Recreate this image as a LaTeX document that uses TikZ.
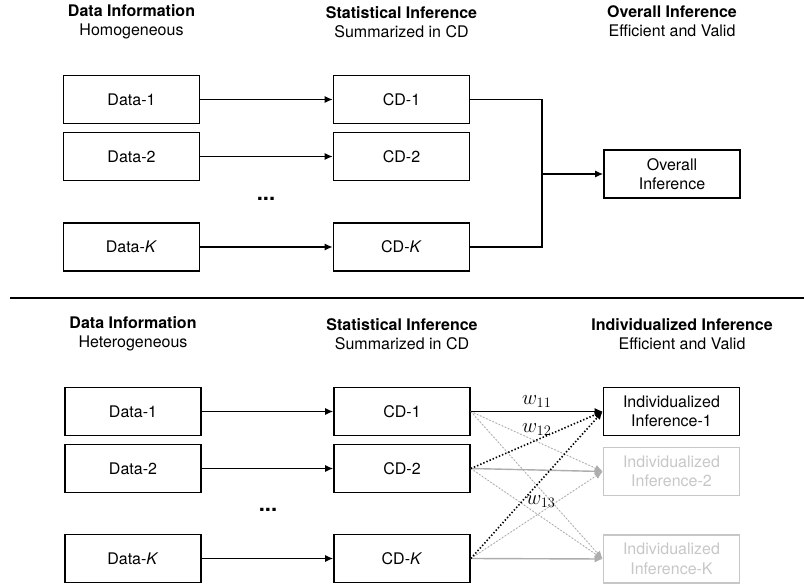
\documentclass[tikz,border=0pt]{standalone}
\usepackage{fontspec}
\setmainfont{TeX Gyre Heros}
\usepackage{tikz}
\usetikzlibrary{arrows.meta}
\definecolor{boxgray}{gray}{0.78}
\definecolor{linegray}{gray}{0.68}

\begin{document}
\begin{tikzpicture}[x=1pt,y=-1pt,
    font=\fontsize{16}{19.5}\selectfont,
    box/.style={draw, line width=1.6pt, minimum width=136pt, minimum height=48pt, inner sep=0pt, align=center},
    fadedbox/.style={box, draw=boxgray, text=boxgray},
    head/.style={align=center},
    link/.style={line width=1.4pt, -{Latex[length=8pt,width=7pt]}},
    fadedlink/.style={link, draw=linegray, fill=linegray},
    wlabel/.style={font=\fontsize{20}{22}\selectfont, inner sep=1pt},
    ellip/.style={font=\fontsize{22}{22}\selectfont\bfseries}]
    \useasboundingbox (0,0) rectangle (804,588);

    % Homogeneous data: combine all CDs
    \node[head] (hd1) at (131.5,22) {\textbf{Data Information}\\Homogeneous};
    \node[head] (hs1) at (401.5,22) {\textbf{Statistical Inference}\\Summarized in CD};
    \node[head] (ho1) at (672,21) {\textbf{Overall Inference}\\Efficient and Valid};

    \node[box] (d1) at (131.5,99.5) {Data-1};
    \node[box] (d2) at (131.5,156.5) {Data-2};
    \node[box] (dK) at (131.5,247) {Data-\textit{K}};
    \node[ellip] (dots1) at (266,199) {...};

    \node[box] (c1) at (401.5,99.5) {CD-1};
    \node[box] (c2) at (401.5,156.5) {CD-2};
    \node[box] (cK) at (401.5,247) {CD-\textit{K}};

    \node[box] (ov) at (672,174) {Overall\\Inference};
    \coordinate (mrg) at (542,174);

    \draw[link] (d1) -- (c1);
    \draw[link] (d2) -- (c2);
    \draw[link] (dK) -- (cK);
    \draw[line width=1.4pt] (c1.east) -| (mrg);
    \draw[line width=1.4pt] (cK.east) -| (mrg);
    \draw[link] (mrg) -- (ov);

    % separator
    \coordinate (sepL) at (10,298);
    \coordinate (sepR) at (804,298);
    \draw[line width=1.4pt] (sepL) -- (sepR);

    % Heterogeneous data: weighted CDs
    \node[head] (hd2) at (133,334) {\textbf{Data Information}\\Heterogeneous};
    \node[head] (hs2) at (402,334) {\textbf{Statistical Inference}\\Summarized in CD};
    \node[head] (hi2) at (682,334) {\textbf{Individualized Inference}\\Efficient and Valid};

    \node[box] (e1) at (133,411.5) {Data-1};
    \node[box] (e2) at (133,468.5) {Data-2};
    \node[box] (eK) at (133,558.5) {Data-\textit{K}};
    \node[ellip] (dots2) at (268,510) {...};

    \node[box] (f1) at (402,411.5) {CD-1};
    \node[box] (f2) at (402,468.5) {CD-2};
    \node[box] (fK) at (402,558.5) {CD-\textit{K}};

    \node[box] (i1) at (671.5,411.5) {Individualized\\Inference-1};
    \node[fadedbox] (i2) at (671.5,471.5) {Individualized\\Inference-2};
    \node[fadedbox] (iK) at (671.5,559) {Individualized\\Inference-K};

    \draw[link] (e1) -- (f1);
    \draw[link] (e2) -- (f2);
    \draw[link] (eK) -- (fK);

    % faded weights
    \draw[fadedlink, dotted, line width=1pt] (f1.east) -- (i2.west);
    \draw[fadedlink, dotted, line width=1pt] (f1.east) -- (iK.west);
    \draw[fadedlink, dotted, line width=1pt] (f2.east) -- (iK.west);
    \draw[fadedlink, dotted, line width=1pt] (fK.east) -- (i2.west);
    \draw[fadedlink] (f2.east) -- (i2.west);
    \draw[fadedlink] (fK.east) -- (iK.west);

    % weights into the first individual
    \draw[link] (f1.east) -- (i1.west) node[wlabel, midway, above=2pt] (w11) {$w_{11}$};
    \draw[link, dotted, line width=1.6pt] (f2.east) -- (i1.west) node[wlabel, midway, above=3pt] (w12) {$w_{12}$};
    \draw[link, dotted, line width=1.6pt] (fK.east) -- (i1.west) node[wlabel, pos=0.385, right=3pt] (w13) {$w_{13}$};
\end{tikzpicture}
\end{document}
